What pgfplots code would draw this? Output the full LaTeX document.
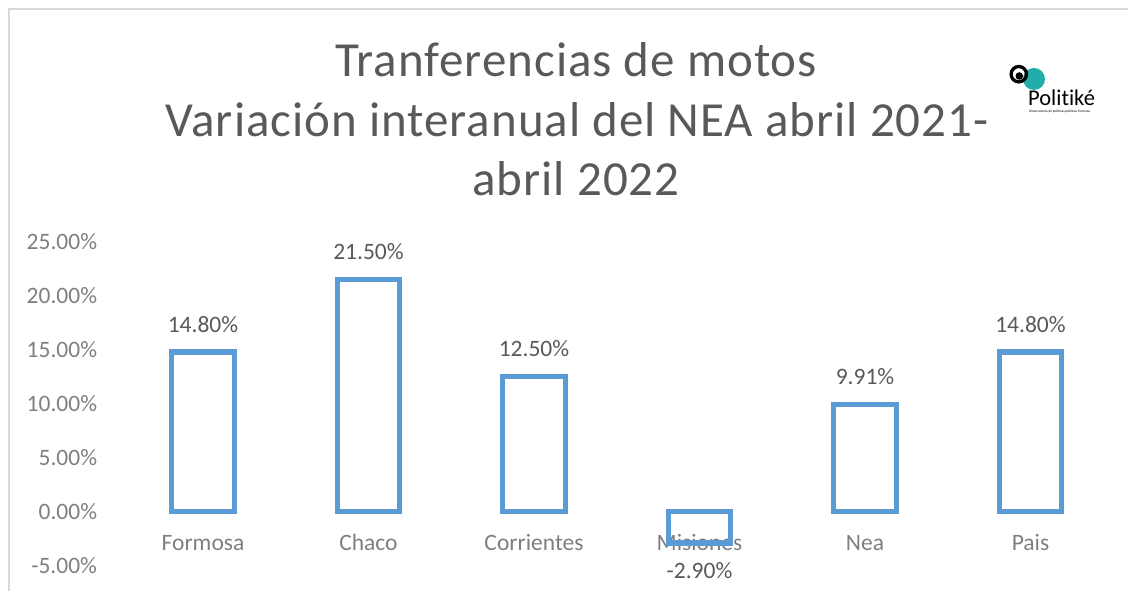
\documentclass[border=0pt]{standalone}
\usepackage{fontspec}
\setmainfont{Carlito}[Ligatures=NoCommon]
\newfontfamily\titlefont{Carlito}[Ligatures=NoCommon, LetterSpace=2.0]
\usepackage{pgfplots}
\pgfplotsset{compat=1.18}
\definecolor{barblue}{HTML}{5B9BD5}
\definecolor{tickgray}{HTML}{7F7F7F}
\definecolor{labgray}{HTML}{595959}
\definecolor{framegray}{HTML}{D9D9D9}
\definecolor{logoteal}{HTML}{22ADAA}
\begin{document}
\begin{tikzpicture}[x=1pt,y=1pt]
\useasboundingbox (0,0) rectangle (1128,591);
\draw[framegray, line width=1.5pt] (9,0) -- (9,582) -- (1128,582);
\begin{axis}[
  at={(120.25pt,25.2pt)}, anchor=south west,
  scale only axis, width=993pt, height=324pt,
  xmin=-0.5, xmax=5.5, ymin=-5, ymax=25,
  axis line style={draw=none},
  major tick length=0pt,
  xtick={0,1,2,3,4,5},
  xticklabels={Formosa,Chaco,Corrientes,Misiones,Nea,Pais},
  ytick={-5,0,5,10,15,20,25},
  yticklabels={-5.00\%,0.00\%,5.00\%,10.00\%,15.00\%,20.00\%,25.00\%},
  tick label style={font=\fontsize{23.5}{28}\selectfont, text=tickgray},
  xticklabel style={anchor=center, yshift=23pt},
  yticklabel style={anchor=east, inner xsep=0pt, xshift=-23pt},
  ybar, bar width=62.6pt,
  clip=false,
  point meta=explicit symbolic,
]
\addplot[draw=barblue, line width=5.3pt, fill=none, bar shift=0pt,
  nodes near coords={\pgfplotspointmeta},
  every node near coord/.style={anchor=south, font=\fontsize{23.5}{28}\selectfont, text=labgray, inner ysep=17pt}] coordinates {
 (0,14.8) [14.80\%]
 (1,21.5) [21.50\%]
 (2,12.5) [12.50\%]
 (3,-2.9) []
 (4,9.91) [9.91\%]
 (5,14.8) [14.80\%]
};
\addplot[draw=none, fill=none, bar shift=0pt,
  nodes near coords={\pgfplotspointmeta},
  every node near coord/.style={anchor=north, font=\fontsize{23.5}{28}\selectfont, text=labgray, inner ysep=19pt}] coordinates {
 (3,-2.9) [-2.90\%]
};
\end{axis}
\node[anchor=base, text=labgray, font=\titlefont\fontsize{49}{59}\selectfont] at (576,514.3) {Tranferencias de motos};
\node[anchor=base, text=labgray, font=\titlefont\fontsize{49}{59}\selectfont] at (577,454.8) {Variación interanual del NEA abril 2021-};
\node[anchor=base, text=labgray, font=\titlefont\fontsize{49}{59}\selectfont] at (576,395.3) {abril 2022};
% logo
\fill[logoteal] (1034,512) circle (11);
\draw[black, line width=3.3pt] (1018.8,516.8) circle (7.7);
\fill[black] (1019.3,515) circle (3.8);
\node[anchor=base west, inner sep=0pt, font=\fontsize{22.5}{22.5}\selectfont] at (1028,485.3) {Politiké};
\node[anchor=base west, inner sep=0pt, font=\fontsize{3.5}{3.5}\selectfont] at (1029,478) {Observatorio de políticas públicas Formosa};
\end{tikzpicture}
\end{document}
